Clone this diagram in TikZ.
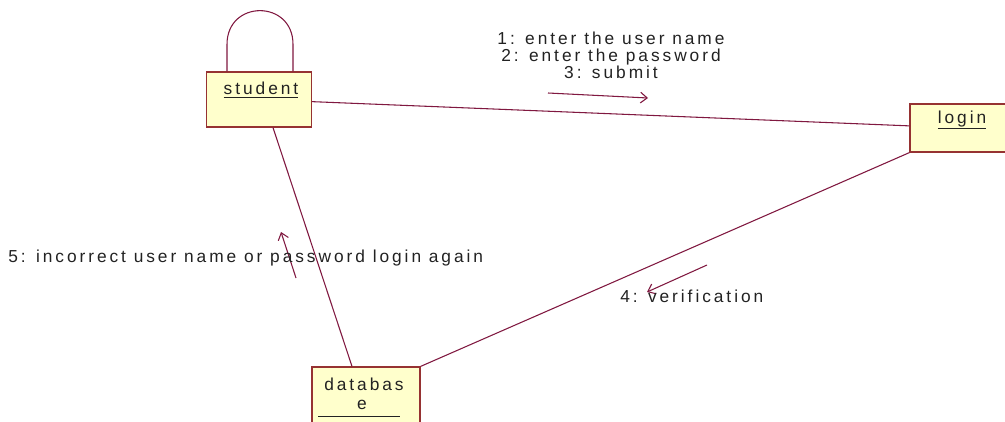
\documentclass[tikz,border=0pt]{standalone}
\usepackage{fontspec}
\setmainfont{Liberation Sans}[LetterSpace=17]
\usetikzlibrary{arrows.meta,calc}
\definecolor{boxfill}{RGB}{255,255,204}
\definecolor{boxline}{RGB}{150,50,50}
\definecolor{linkline}{RGB}{128,24,64}
\definecolor{txt}{RGB}{34,34,34}
\begin{document}
\begin{tikzpicture}[x=0.75pt,y=-0.75pt,
  obj/.style={draw=boxline, fill=boxfill, line width=0.9pt, inner sep=0pt, rectangle},
  lbl/.style={text=txt, font=\fontsize{13}{12.75}\selectfont, inner sep=0pt},
  link/.style={draw=linkline, line width=0.8pt},
  msg/.style={draw=linkline, line width=0.8pt, -{Straight Barb[length=5pt,width=8pt]}}]
\clip (0,0) rectangle (1005,421);
\fill[white] (0,0) rectangle (1005,421);
% objects
\node[obj, minimum width=78.75pt, minimum height=41.25pt] (student) at (259,99.5) {};
\node[obj, minimum width=78pt, minimum height=36pt] (login) at (962,128) {};
\node[obj, minimum width=81pt, minimum height=54.75pt] (db) at (366,403.5) {};
% names
\node[lbl] (studentname) at (261,90) {\underline{student}};
\node[lbl] (loginname) at (962,120) {\underline{login}};
\node[lbl] (dbname1) at (364,384) {databas};
\node[lbl] (dbname2) at (362,405) {e};
\draw[txt, line width=0.7pt] (318,416) -- (400,416);
% links
\draw[link] (student) -- (login);
\draw[link] ($(student.south)+(14,0)$) -- ($(db.north)+(-14,0)$);
\draw[link] (login.south west) -- (db.north east);
\draw[link] ($(student.north)+(-32,0)$) -- ++(0,-27) .. controls +(0,-45) and +(0,-45) .. ($(student.north)+(34,-27)$) -- ($(student.north)+(34,0)$);
% messages
\coordinate (m3s) at (548,93);
\coordinate (m3e) at (648,98);
\draw[msg] (m3s) -- (m3e);
\node[lbl, align=center] (m123) at (611,55) {1: enter the user name\\2: enter the password\\3: submit};
\coordinate (m5s) at (296,278);
\coordinate (m5e) at (281,232);
\draw[msg] (m5s) -- (m5e);
\node[lbl, anchor=west] (m5) at (8,258) {5: incorrect user name or password login again};
\coordinate (m4s) at (707,265);
\coordinate (m4e) at (647,292);
\draw[msg] (m4s) -- (m4e);
\node[lbl, anchor=west] (m4) at (620,296) {4: verification};
\end{tikzpicture}
\end{document}
